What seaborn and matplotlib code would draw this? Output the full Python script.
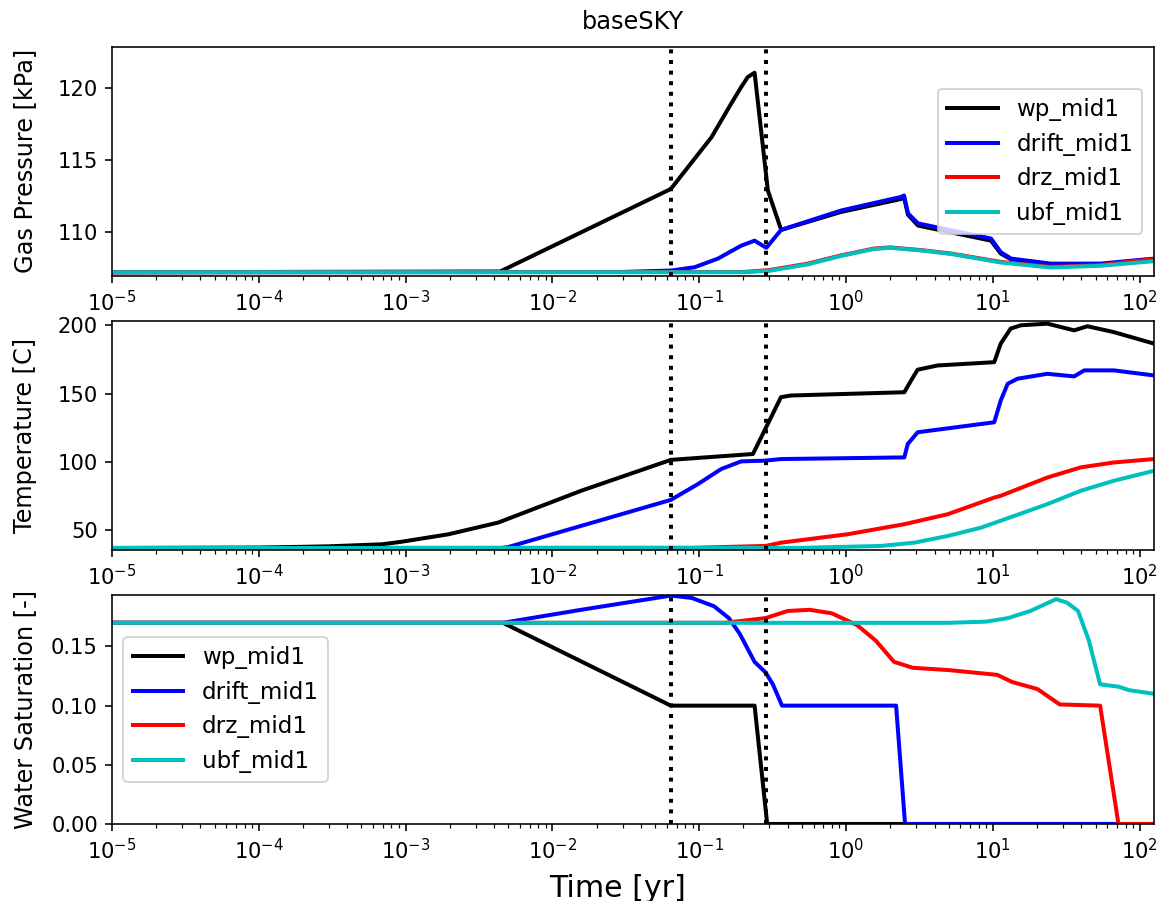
import numpy as np
import pandas as pd
import seaborn as sns
import matplotlib
matplotlib.use("Agg")
import matplotlib.pyplot as plt
from matplotlib.ticker import FormatStrFormatter

# === data ===
names = ["wp_mid1", "drift_mid1", "drz_mid1", "ubf_mid1"]
colors = ["k", "b", "r", "c"]
t_marks = [0.064, 0.283]
decades = [1e-5, 1e-4, 1e-3, 1e-2, 1e-1, 1e0, 1e1, 1e2]

# gas pressure [kPa]
wp_p_t = [1e-5, 0.0044, 0.064, 0.088, 0.121, 0.165, 0.193, 0.214, 0.238, 0.293, 0.361,
          0.925, 2.37, 2.48, 2.64, 3.09, 9.7, 11.3, 13.3, 24.8, 54, 125]
wp_p = [107.2, 107.25, 113.0, 114.8, 116.6, 118.95, 120.1, 120.8, 121.1, 112.9, 110.15,
        111.4, 112.3, 112.4, 111.2, 110.45, 109.4, 108.5, 108.1, 107.75, 107.75, 108.1]
drift_p_t = [1e-5, 0.03, 0.0645, 0.093, 0.134, 0.193, 0.238, 0.286, 0.361, 0.925, 2.37,
             2.48, 2.64, 3.09, 9.7, 11.3, 13.3, 24.8, 54, 125]
drift_p = [107.2, 107.22, 107.32, 107.55, 108.15, 109.05, 109.4, 108.9, 110.15, 111.5, 112.45,
           112.55, 111.3, 110.6, 109.55, 108.6, 108.15, 107.8, 107.8, 108.15]
drz_p_t = [1e-5, 0.2, 0.3, 0.55, 0.92, 1.55, 2.0, 3.4, 5.2, 11.3, 24.8, 54, 125]
drz_p = [107.2, 107.22, 107.35, 107.8, 108.37, 108.85, 108.93, 108.72, 108.5, 107.92, 107.57, 107.7, 108.12]
ubf_p_t = [1e-5, 0.2, 0.3, 0.55, 0.92, 1.55, 2.0, 3.4, 5.2, 11.3, 24.8, 54, 125]
ubf_p = [107.2, 107.2, 107.3, 107.75, 108.33, 108.82, 108.9, 108.7, 108.47, 107.88, 107.53, 107.65, 107.97]

# temperature [C]
wp_T_t = [1e-5, 1e-4, 3e-4, 6.9e-4, 9.3e-4, 0.00195, 0.00427, 0.0157, 0.064, 0.232, 0.36, 0.42,
          2.49, 2.77, 3.07, 4.2, 10.2, 11.3, 13.2, 15.5, 23.5, 35.7, 44, 66.6, 125]
wp_T = [37, 37.3, 38.2, 39.7, 41.5, 47, 55.6, 78.9, 101.5, 105.8, 147.4, 148.6,
        151, 159.6, 167.5, 170.6, 173, 186.6, 197.6, 200, 201.2, 196.3, 199.3, 195, 186.6]
drift_T_t = [1e-5, 0.0045, 0.005, 0.064, 0.098, 0.141, 0.193, 0.278, 0.361, 2.49, 2.63, 3.07,
             10.2, 11.3, 12.6, 14.7, 23.5, 35.7, 41.9, 66.6, 125]
drift_T = [37, 37, 37.7, 72.2, 83.8, 94.8, 100.4, 100.9, 102.1, 103.3, 113.1, 121.7,
           129, 144.9, 157.2, 160.9, 164.5, 162.6, 167, 167, 163.3]
drz_T_t = [1e-5, 0.09, 0.283, 0.361, 1.03, 2.49, 4.92, 10.2, 11.3, 23.5, 39.7, 66.6, 125]
drz_T = [37, 37.1, 38.5, 40.9, 47.1, 54.4, 61.7, 73.9, 75.2, 88.6, 96, 99.6, 102.1]
ubf_T_t = [1e-5, 0.5, 1.73, 2.92, 4.92, 8.3, 14, 23.5, 39.7, 66.6, 125]
ubf_T = [37, 37.1, 38.5, 40.9, 45.8, 51.9, 60.5, 69.1, 78.9, 86.2, 93.5]

# water saturation [-]
wp_S_t = [1e-5, 0.0046, 0.064, 0.238, 0.29, 125]
wp_S = [0.17, 0.17, 0.10, 0.10, 0.0, 0.0]
drift_S_t = [1e-5, 0.0046, 0.0157, 0.064, 0.089, 0.126, 0.159, 0.188, 0.238, 0.283, 0.317,
             0.366, 2.19, 2.52, 125]
drift_S = [0.17, 0.17, 0.181, 0.193, 0.191, 0.184, 0.174, 0.161, 0.137, 0.128, 0.118,
           0.10, 0.10, 0.0, 0.0]
drz_S_t = [1e-5, 0.15, 0.283, 0.4, 0.564, 0.8, 1.19, 1.59, 2.12, 2.84, 5.05, 10.7, 13.5,
           20.1, 28.5, 53.7, 71.6, 125]
drz_S = [0.17, 0.17, 0.174, 0.18, 0.181, 0.178, 0.168, 0.155, 0.137, 0.132, 0.130, 0.126, 0.120,
         0.114, 0.101, 0.100, 0.0, 0.0]
ubf_S_t = [1e-5, 5, 9, 12.7, 18, 26.9, 32, 38, 45, 53.7, 71.6, 85, 125]
ubf_S = [0.17, 0.17, 0.171, 0.174, 0.18, 0.19, 0.187, 0.18, 0.155, 0.118, 0.116, 0.113, 0.110]


def to_long(series):
    frames = []
    for name, (t, v) in zip(names, series):
        frames.append(pd.DataFrame({"time": t, "value": v, "loc": name}))
    return pd.concat(frames, ignore_index=True)


panels = [
    (to_long([(wp_p_t, wp_p), (drift_p_t, drift_p), (drz_p_t, drz_p), (ubf_p_t, ubf_p)]),
     "Gas Pressure [kPa]", (106.95, 122.9), [110, 115, 120], "center right"),
    (to_long([(wp_T_t, wp_T), (drift_T_t, drift_T), (drz_T_t, drz_T), (ubf_T_t, ubf_T)]),
     "Temperature [C]", (35.6, 203.2), [50, 100, 150, 200], None),
    (to_long([(wp_S_t, wp_S), (drift_S_t, drift_S), (drz_S_t, drz_S), (ubf_S_t, ubf_S)]),
     "Water Saturation [-]", (0.0, 0.1935), [0.0, 0.05, 0.10, 0.15], "center left"),
]

# === plot ===
plt.rcParams["xtick.labelsize"] = 10.5
plt.rcParams["ytick.labelsize"] = 10.5
fig, axes = plt.subplots(3, 1, figsize=(1157 / 144, 901 / 144), dpi=144)
fig.subplots_adjust(left=0.0968, right=0.9974, top=0.948, bottom=0.0855, hspace=0.197)

for ax, (df, ylabel, ylim, yticks, legloc) in zip(axes, panels):
    for name, col in zip(names, colors):
        sub = df[df["loc"] == name]
        sns.lineplot(data=sub, x="time", y="value", color=col, linewidth=2,
                     label=name, ax=ax, legend=False)
    for tm in t_marks:
        ax.axvline(tm, color="k", linestyle=":", linewidth=2)
    ax.set_xscale("log")
    ax.set_xticks(decades)
    ax.set_xlim(1e-5, 125)
    ax.set_ylim(*ylim)
    ax.set_yticks(yticks)
    ax.set_ylabel(ylabel, fontsize=12)
    ax.yaxis.set_label_coords(-0.072, 0.5)
    ax.set_xlabel("")
    if legloc is not None:
        ax.legend(loc=legloc, fontsize=11.5, handlelength=2.2)

axes[2].yaxis.set_major_formatter(FormatStrFormatter("%.2f"))
axes[0].set_title("baseSKY", pad=9)
axes[2].set_xlabel("Time [yr]", fontsize=15)
axes[2].xaxis.set_label_coords(0.485, -0.22)

fig.savefig("out.png", dpi=144)
